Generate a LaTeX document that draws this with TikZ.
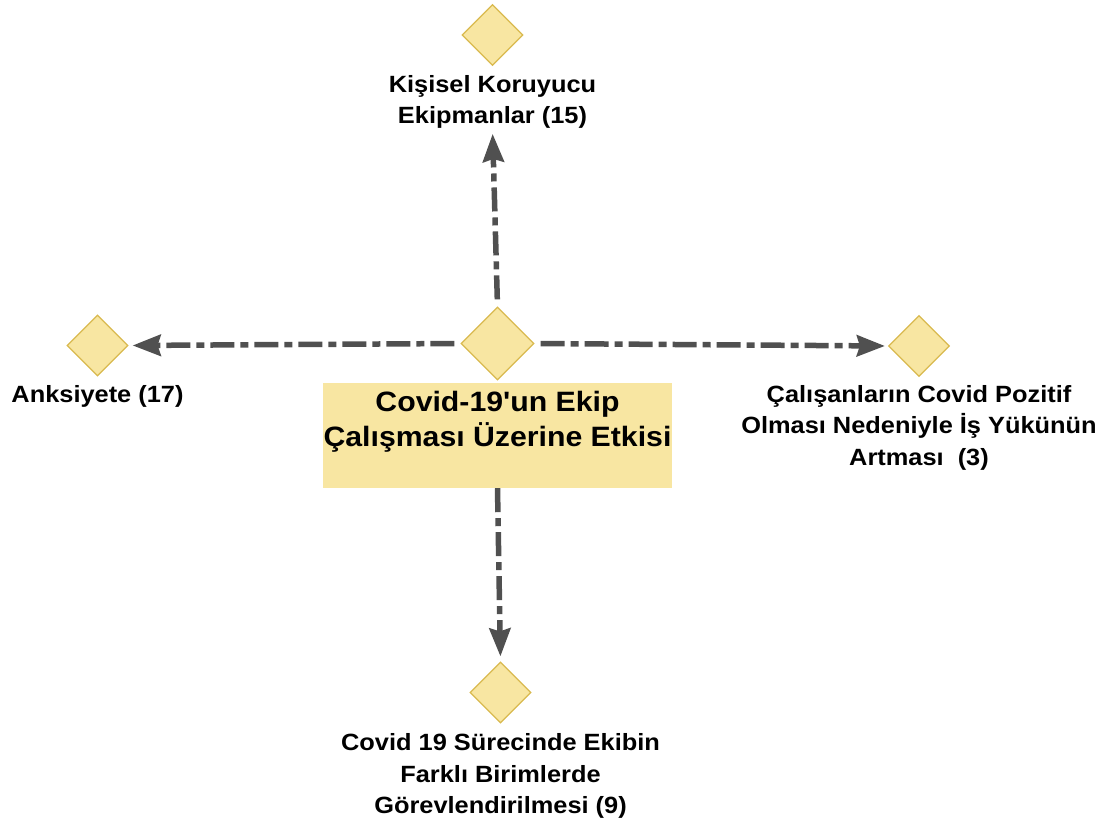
\documentclass[tikz,border=0pt]{standalone}
\usepackage{fontspec}
\setmainfont{Liberation Sans}[FakeStretch=1.08,Ligatures=TeXOff]
\usepackage{tikz}
\usetikzlibrary{arrows.meta,positioning,shapes.geometric}
\definecolor{sari}{HTML}{F8E6A2}
\definecolor{kenar}{HTML}{D9B94E}
\definecolor{gri}{HTML}{505050}

\begin{document}
\begin{tikzpicture}[x=1pt,y=-1pt,
  karo/.style={diamond,draw=kenar,fill=sari,line width=1.2pt,inner sep=0pt,minimum size=61pt},
  etiket/.style={align=center,inner sep=0pt,font=\bfseries\fontsize{23.5}{31.5}\selectfont},
  okcizgi/.style={draw=gri,line width=5.5pt,dash pattern=on 24pt off 6pt on 8pt off 6pt,
    -{Stealth[length=28pt,width=21pt,inset=3pt]}}]
\useasboundingbox (0,0) rectangle (1111,820);
\node[karo,minimum size=73pt] (merkez) at (497.5,343.5) {};
\node[fill=sari,inner sep=0pt,font=\bfseries\fontsize{28}{35}\selectfont] (baslik) at (497.5,435.5)
  {\parbox[c][105pt][t]{349pt}{\centering\vspace*{8pt}Covid-19'un Ekip\\Çalışması Üzerine Etkisi}};
\node[karo] (kkd) at (492.5,35) {};
\node[etiket,below=9pt of kkd] (kkdyazi) {Kişisel Koruyucu\\Ekipmanlar (15)};
\node[karo] (anks) at (97.5,345.5) {};
\node[etiket,below=9pt of anks] (anksyazi) {Anksiyete (17)};
\node[karo] (yuk) at (919,346) {};
\node[etiket,below=8pt of yuk] (yukyazi) {Çalışanların Covid Pozitif\\Olması Nedeniyle İş Yükünün\\Artması~~(3)};
\node[karo] (gorev) at (500.5,692.5) {};
\node[etiket,below=10pt of gorev] (gorevyazi) {Covid 19 Sürecinde Ekibin\\Farklı Birimlerde\\Görevlendirilmesi (9)};
\draw[okcizgi,shorten <=7pt,shorten >=5pt] (merkez.north) -- (kkdyazi.south);
\draw[okcizgi,shorten <=6pt,shorten >=4pt] (merkez.west) -- (anks.east);
\draw[okcizgi,shorten <=6pt,shorten >=3pt] (merkez.east) -- (yuk.west);
\draw[okcizgi,shorten >=5pt] (baslik.south) -- (gorev.north);
\end{tikzpicture}
\end{document}
